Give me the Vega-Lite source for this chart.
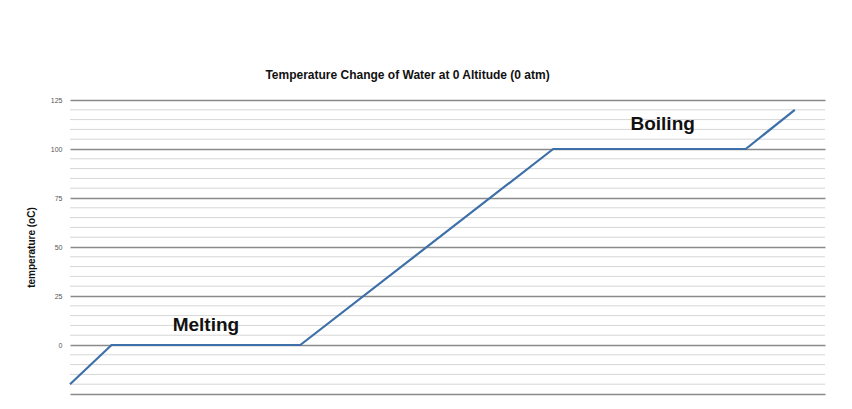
{
  "$schema": "https://vega.github.io/schema/vega-lite/v6.json",
  "autosize": "none",
  "width": 755,
  "height": 294,
  "padding": {"left": 70, "top": 100, "right": 27, "bottom": 15},
  "background": "white",
  "title": {"text": "Temperature Change of Water at 0 Altitude (0 atm)", "font": "Liberation Sans", "fontSize": 12, "fontWeight": "bold", "color": "#111", "anchor": "middle", "dx": -40, "offset": 14},
  "config": {"view": {"stroke": null}},
  "datasets": {
    "curve": [
      {"time": 0, "temp": -20},
      {"time": 1.1, "temp": 0},
      {"time": 6.1, "temp": 0},
      {"time": 12.8, "temp": 100},
      {"time": 17.9, "temp": 100},
      {"time": 19.2, "temp": 120}
    ],
    "minor": [
      {"temp": -20}, {"temp": -15}, {"temp": -10}, {"temp": -5},
      {"temp": 5}, {"temp": 10}, {"temp": 15}, {"temp": 20},
      {"temp": 30}, {"temp": 35}, {"temp": 40}, {"temp": 45},
      {"temp": 55}, {"temp": 60}, {"temp": 65}, {"temp": 70},
      {"temp": 80}, {"temp": 85}, {"temp": 90}, {"temp": 95},
      {"temp": 105}, {"temp": 110}, {"temp": 115}, {"temp": 120}
    ],
    "labels": [
      {"time": 3.6, "temp": 10, "label": "Melting"},
      {"time": 15.7, "temp": 113, "label": "Boiling"}
    ]
  },
  "layer": [
    {
      "data": {"name": "minor"},
      "mark": {"type": "rule", "color": "#d6d6d6", "strokeWidth": 1},
      "encoding": {
        "y": {"field": "temp", "type": "quantitative", "scale": {"domain": [-25, 125], "nice": false},
          "title": "temperature (oC)",
          "axis": {
            "values": [-25, 0, 25, 50, 75, 100, 125],
            "labelExpr": "datum.value >= 0 ? datum.label : ''",
            "grid": true,
            "gridColor": "#8a8a8a",
            "gridWidth": 1.3,
            "ticks": false,
            "domain": false,
            "labelOverlap": false,
            "labelFont": "Liberation Sans",
            "labelFontSize": 7,
            "labelColor": "#555",
            "labelPadding": 8,
            "titleFont": "Liberation Sans",
            "titleFontSize": 10,
            "titleFontWeight": "bold",
            "titleColor": "#111",
            "titlePadding": 14
          }
        }
      }
    },
    {
      "data": {"name": "curve"},
      "mark": {"type": "line", "color": "#3d6fa8", "strokeWidth": 2.2},
      "encoding": {
        "x": {"field": "time", "type": "quantitative", "scale": {"domain": [0, 20], "nice": false}, "axis": null},
        "y": {"field": "temp", "type": "quantitative"}
      }
    },
    {
      "data": {"name": "labels"},
      "mark": {"type": "text", "font": "Liberation Sans", "fontSize": 19, "fontWeight": "bold", "color": "#111"},
      "encoding": {
        "x": {"field": "time", "type": "quantitative"},
        "y": {"field": "temp", "type": "quantitative"},
        "text": {"field": "label"}
      }
    }
  ]
}
